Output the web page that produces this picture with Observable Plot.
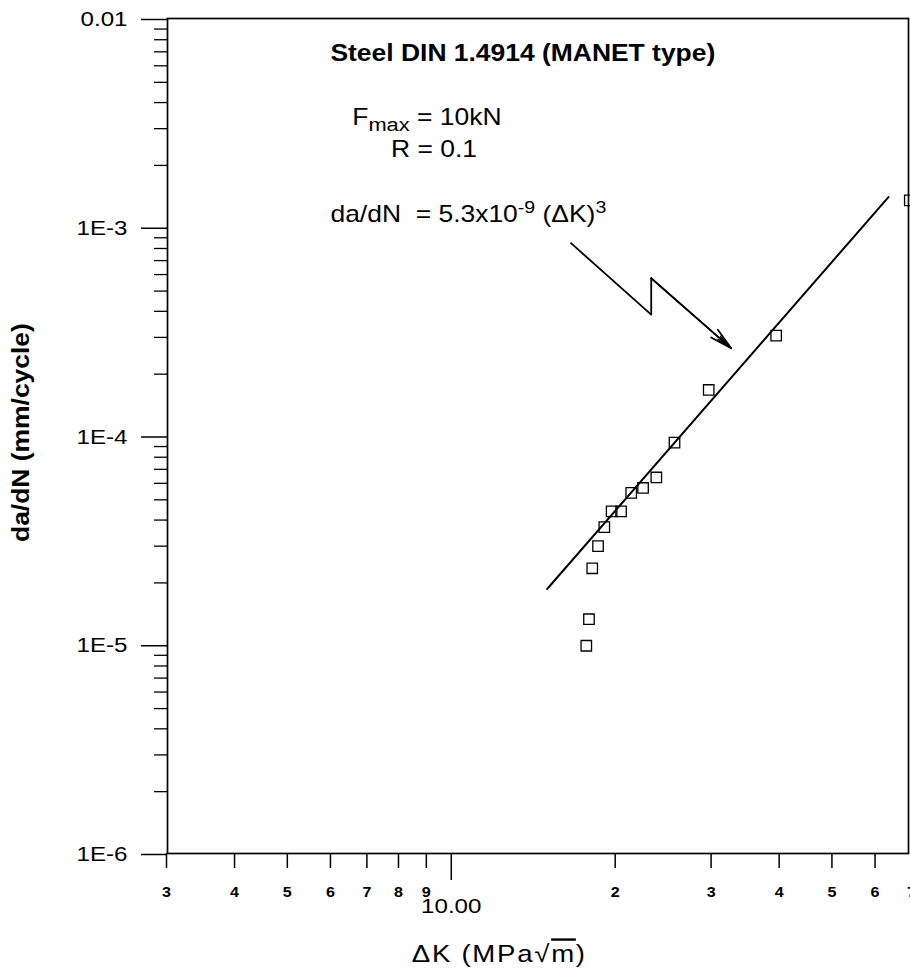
<!DOCTYPE html>
<html>
<head>
<meta charset="utf-8">
<style>
  html, body { margin: 0; padding: 0; background: white; overflow: hidden; }
</style>
<script src="https://cdn.jsdelivr.net/npm/d3@7"></script>
<script src="https://cdn.jsdelivr.net/npm/@observablehq/plot@0.6"></script>
</head>
<body>
<div id="chart"></div>
<script>
// ---- data ----
const dK   = [17.7, 17.9, 18.15, 18.6, 19.1, 19.7, 20.5, 21.4, 22.5, 23.8, 25.7, 29.7, 39.5, 69.5];
const dadN = [1.0e-5, 1.34e-5, 2.35e-5, 3.0e-5, 3.7e-5, 4.4e-5, 4.4e-5, 5.4e-5, 5.7e-5, 6.4e-5, 9.4e-5, 1.68e-4, 3.06e-4, 1.36e-3];

// fitted line da/dN = 5.3e-9 (dK)^3, endpoints as drawn
const fitK    = [15, 63.5];
const fitRate = [1.87e-5, 1.41e-3];

// zig-zag pointer (data coordinates)
const arrowK    = [16.59, 23.29, 23.29, 32.66];
const arrowRate = [8.48e-4, 3.86e-4, 5.76e-4, 2.66e-4];

// ticks
const xTicks      = [3, 4, 5, 6, 7, 8, 9, 20, 30, 40, 50, 60, 70];
const xTickLabels = ["3", "4", "5", "6", "7", "8", "9", "2", "3", "4", "5", "6", "7"];
const xMainTicks  = [10];
const xMainLabels = ["10.00"];
const yTicks      = [1e-6, 1e-5, 1e-4, 1e-3, 1e-2];
const yTickLabels = ["1E-6", "1E-5", "1E-4", "1E-3", "0.01"];
const yDecades    = [1e-6, 1e-5, 1e-4, 1e-3];
const minorMantissas = [2, 3, 4, 5, 6, 7, 8, 9];

// texts
const titleText = "Steel DIN 1.4914 (MANET type)";
const loadText  = "F_{max} = 10kN";
const ratioText = "R = 0.1";
const lawText   = "da/dN  = 5.3x10^{-9} (ΔK)^{3}";
const yLabel    = "da/dN (mm/cycle)";
const xLabel    = "ΔK (MPa√~{m})";

// ---- derived ----
const yMinor = yDecades.flatMap(d => minorMantissas.map(m => m * d));
const yLabelMap = new Map(yTicks.map((t, i) => [t, yTickLabels[i]]));

const font = "'Liberation Sans', Arial, Helvetica, sans-serif";

const plot = Plot.plot({
  width: 910,
  height: 968,
  marginLeft: 167,
  marginRight: 2,
  marginTop: 18,
  marginBottom: 115,
  style: { fontFamily: font, background: "white", color: "black" },
  x: { type: "log", domain: [3, 70], range: [166, 911] },
  y: { type: "log", domain: [1e-6, 1e-2], range: [854, 19] },
  marks: [
    Plot.frame({ stroke: "black", strokeWidth: 1.7 }),
    Plot.axisY({ ticks: yTicks, tickSize: 26, tickPadding: 14, tickFormat: d => yLabelMap.get(d),
                 fontSize: 21, strokeWidth: 1.5, label: null }),
    Plot.axisY({ ticks: yMinor, tickSize: 13, tickFormat: () => "", strokeWidth: 1.3, label: null }),
    Plot.axisX({ ticks: xTicks, tickSize: 15, tickFormat: () => "", strokeWidth: 1.5, label: null }),
    Plot.axisX({ ticks: xMainTicks, tickSize: 27, tickFormat: () => "", strokeWidth: 1.5, label: null }),
    Plot.text(xTicks, { x: xTicks, text: xTickLabels, frameAnchor: "bottom", dy: 34, lineAnchor: "top",
                        fontSize: 14, fontWeight: "bold" }),
    Plot.text(xMainTicks, { x: xMainTicks, text: xMainLabels, frameAnchor: "bottom", dy: 45, lineAnchor: "top",
                            fontSize: 21 }),

    Plot.line(fitK, { x: fitK, y: fitRate, stroke: "black", strokeWidth: 2 }),
    Plot.dot(dK, { x: dK, y: dadN, symbol: "square", r: 5.9, stroke: "black", strokeWidth: 1.3, fill: "none" }),

    Plot.line(arrowK.slice(0, 3), { x: arrowK.slice(0, 3), y: arrowRate.slice(0, 3), stroke: "black", strokeWidth: 1.8 }),
    Plot.arrow([0], { x1: arrowK[2], y1: arrowRate[2], x2: arrowK[3], y2: arrowRate[3],
                      stroke: "black", strokeWidth: 1.8, headLength: 19, headAngle: 26 }),
    Plot.arrow([0], { x1: arrowK[2], y1: arrowRate[2], x2: arrowK[3], y2: arrowRate[3],
                      stroke: "black", strokeWidth: 1.5, headLength: 16, headAngle: 14 }),

    Plot.text([titleText], { x: 6.0, y: 6.31e-3, text: d => d, textAnchor: "start", lineAnchor: "bottom",
                             fontSize: 23, fontWeight: "bold" }),
    Plot.text([loadText], { x: 6.58, y: 3.11e-3, text: d => d, textAnchor: "start", lineAnchor: "bottom", fontSize: 23 }),
    Plot.text([ratioText], { x: 7.75, y: 2.19e-3, text: d => d, textAnchor: "start", lineAnchor: "bottom", fontSize: 23 }),
    Plot.text([lawText], { x: 6.0, y: 1.069e-3, text: d => d, textAnchor: "start", lineAnchor: "bottom", fontSize: 23 }),

    Plot.text([yLabel], { x: 1.626, y: 1.05e-4, text: d => d, rotate: -90, lineAnchor: "middle",
                          fontSize: 23, fontWeight: "bold" }),
    Plot.text([xLabel], { x: 12.25, y: 3.07e-7, text: d => d, lineAnchor: "bottom", fontSize: 24 })
  ]
});

// rich text: _{sub}, ^{sup}, ~{overline}
const NS = "http://www.w3.org/2000/svg";
plot.querySelectorAll("text").forEach(t => {
  const s = t.textContent;
  if (!/[_^~]\{/.test(s)) return;
  t.textContent = "";
  t.setAttribute("xml:space", "preserve");
  t.style.whiteSpace = "pre";
  const re = /([_^~])\{([^}]*)\}/g;
  let last = 0, m, shift = 0;
  const add = (str, kind) => {
    const ts = document.createElementNS(NS, "tspan");
    ts.textContent = str;
    const target = kind === "_" ? 6 : kind === "^" ? -9 : 0;
    if (target !== shift) { ts.setAttribute("dy", target - shift); shift = target; }
    if (kind === "_") ts.setAttribute("font-size", 19);
    if (kind === "^") ts.setAttribute("font-size", 17);
    if (kind === "~") ts.setAttribute("text-decoration", "overline");
    t.appendChild(ts);
  };
  while ((m = re.exec(s))) {
    if (m.index > last) add(s.slice(last, m.index), "");
    add(m[2], m[1]);
    last = re.lastIndex;
  }
  if (last < s.length) add(s.slice(last), "");
});

// the original lettering is set wider than Arial: stretch horizontally about each anchor
// (the y attribute, e.g. "0.32em", is a vertical offset and is unaffected by scaleX)
const S = 1.15;
plot.querySelectorAll("text").forEach(t => {
  const tr = t.getAttribute("transform") || "";
  t.setAttribute("transform", tr + ` scale(${S},1)`);
  if (t.textContent.startsWith("ΔK")) t.setAttribute("letter-spacing", "1.5");
});

document.getElementById("chart").appendChild(plot);
</script>
</body>
</html>
